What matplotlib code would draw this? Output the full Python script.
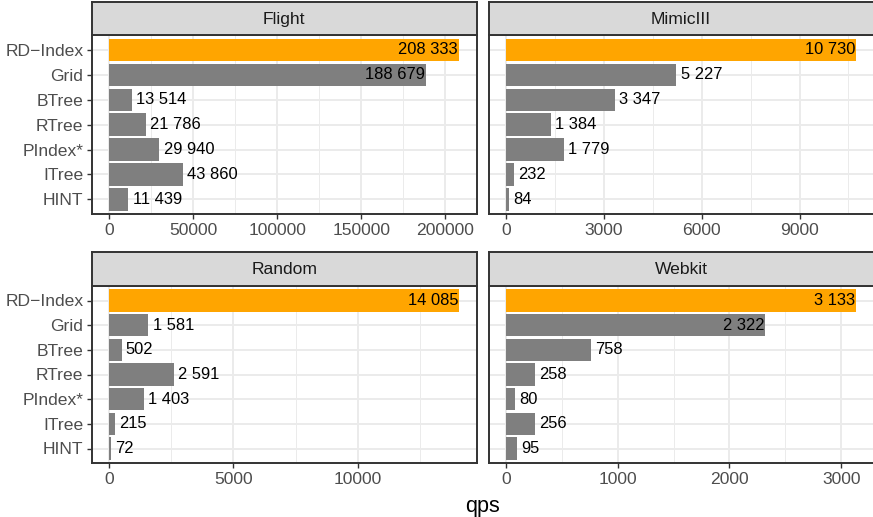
import matplotlib
matplotlib.use("Agg")
import matplotlib.pyplot as plt
from matplotlib.ticker import MultipleLocator

plt.rcParams['font.family'] = ['Liberation Sans', 'DejaVu Sans']

# index structures, top to bottom
methods = ['RD\u2212Index', 'Grid', 'BTree', 'RTree', 'PIndex*', 'ITree', 'HINT']

datasets = ['Flight', 'MimicIII', 'Random', 'Webkit']
flight = [208333, 188679, 13514, 21786, 29940, 43860, 11439]
mimic = [10730, 5227, 3347, 1384, 1779, 232, 84]
random_ds = [14085, 1581, 502, 2591, 1403, 215, 72]
webkit = [3133, 2322, 758, 258, 80, 256, 95]
values = [flight, mimic, random_ds, webkit]

# x tick spacing per panel
tick_steps = [50000, 3000, 5000, 1000]

W, H = 873, 517
fig = plt.figure(figsize=(W / 100, H / 100), dpi=100)

BORDER = '#333333'
GRID = '#EBEBEB'
GREY = '#7F7F7F'
ORANGE = '#FFA500'

lefts = [91.7, 488.5]
pw = 385.0
rows = [(1.7, 35.0, 214.3), (251.7, 285.7, 463.3)]  # strip top, panel top, panel bottom


def fx(px):
    return px / W


def fy(py):
    return 1 - py / H


ypos = list(range(len(methods), 0, -1))

for i, name in enumerate(datasets):
    r, c = divmod(i, 2)
    st, pt, pb = rows[r]
    left = lefts[c]
    ax = fig.add_axes([fx(left), fy(pb), fx(pw), fy(pt) - fy(pb)])
    sax = fig.add_axes([fx(left), fy(pt), fx(pw), fy(st) - fy(pt)])

    vals = values[i]
    vmax = max(vals)
    colors = [ORANGE] + [GREY] * (len(vals) - 1)
    ax.barh(ypos, vals, height=0.9, color=colors, zorder=2)

    for y, v in zip(ypos, vals):
        txt = f"{v:,}".replace(',', ' ')
        if v > 0.7 * vmax:
            ax.annotate(txt, (v, y), xytext=(-0.8, 0), textcoords='offset points',
                        ha='right', va='center', fontsize=11.9, color='black', zorder=3)
        else:
            ax.annotate(txt, (v, y), xytext=(3.0, 0), textcoords='offset points',
                        ha='left', va='center', fontsize=11.9, color='black', zorder=3)

    ax.set_xlim(-0.05 * vmax, 1.05 * vmax)
    ax.set_ylim(0.4, len(methods) + 0.6)
    step = tick_steps[i]
    ax.xaxis.set_major_locator(MultipleLocator(step))
    ax.xaxis.set_minor_locator(MultipleLocator(step / 2))
    ax.set_yticks(ypos)
    ax.set_yticklabels(methods)
    ax.grid(True, which='major', color=GRID, linewidth=1.4, zorder=0)
    ax.grid(True, which='minor', axis='x', color=GRID, linewidth=0.7, zorder=0)
    ax.set_axisbelow(True)
    ax.tick_params(which='major', length=3.7, width=1.0, color=BORDER,
                   labelsize=12.6, labelcolor='#4D4D4D', pad=2.3)
    ax.tick_params(which='minor', length=0)
    if c == 1:
        ax.tick_params(axis='y', left=False, labelleft=False)
    for s in ax.spines.values():
        s.set_color(BORDER)
        s.set_linewidth(1.4)

    sax.set_facecolor('#D9D9D9')
    sax.set_xticks([])
    sax.set_yticks([])
    for s in sax.spines.values():
        s.set_color(BORDER)
        s.set_linewidth(1.4)
    sax.text(0.5, 0.48, name, transform=sax.transAxes, ha='center', va='center',
             fontsize=12.6, color='#1A1A1A')

fig.text(fx(482.6), fy(506.5), 'qps', ha='center', va='center', fontsize=15.5, color='black')

fig.savefig('out.png', dpi=100)
